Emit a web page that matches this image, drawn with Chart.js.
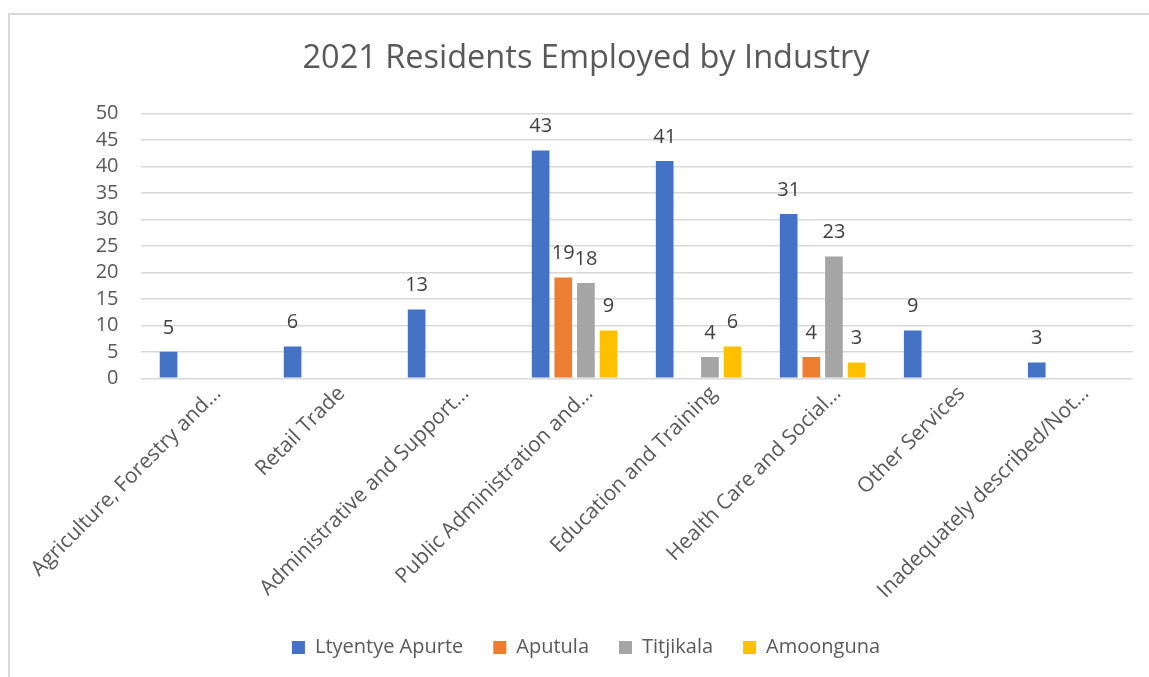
<!DOCTYPE html>
<html lang="en">
<head>
    <meta charset="UTF-8">
    <title>2021 Residents Employed by Industry</title>
    <script src="https://cdn.jsdelivr.net/npm/chart.js"></script>
    <style>
        body {
            margin: 0;
            padding: 0;
            background: #ffffff;
            overflow: hidden;
        }

        /* light grey chart frame, runs off the right and bottom edges */
        .frame {
            position: absolute;
            left: 8px;
            top: 13px;
            width: 1200px;
            height: 720px;
            border: 2px solid #d9d9d9;
        }

        #industryChart {
            position: absolute;
            left: 0;
            top: 0;
        }
    </style>
</head>
<body>
    <div class="frame"></div>
    <canvas id="industryChart" width="1149" height="677"></canvas>

    <script>
        const industries = [
            'Agriculture, Forestry and…',
            'Retail Trade',
            'Administrative and Support…',
            'Public Administration and…',
            'Education and Training',
            'Health Care and Social…',
            'Other Services',
            'Inadequately described/Not…'
        ];

        // null = no residents recorded, so no bar and no label
        const ltyentyeApurte = [5, 6, 13, 43, 41, 31, 9, 3];
        const aputula = [null, null, null, 19, null, 4, null, null];
        const titjikala = [null, null, null, 18, 4, 23, null, null];
        const amoonguna = [null, null, null, 9, 6, 3, null, null];

        const yTicks = [0, 5, 10, 15, 20, 25, 30, 35, 40, 45, 50];

        const font = "'Open Sans', sans-serif";

        // value labels above each bar
        const barValues = {
            id: 'barValues',
            afterDatasetsDraw(chart) {
                const ctx = chart.ctx;
                ctx.save();
                ctx.font = '20px ' + font;
                ctx.fillStyle = '#404040';
                ctx.textAlign = 'center';
                ctx.textBaseline = 'middle';
                chart.data.datasets.forEach((ds, i) => {
                    chart.getDatasetMeta(i).data.forEach((bar, j) => {
                        const v = ds.data[j];
                        if (v === null || v === undefined) return;
                        ctx.fillText(String(v), bar.x, bar.y - 24);
                    });
                });
                ctx.restore();
            }
        };

        const ctx = document.getElementById('industryChart').getContext('2d');
        const chart = new Chart(ctx, {
            type: 'bar',
            data: {
                labels: industries,
                datasets: [
                    { label: 'Ltyentye Apurte', data: ltyentyeApurte, backgroundColor: '#4472C4' },
                    { label: 'Aputula', data: aputula, backgroundColor: '#ED7D31' },
                    { label: 'Titjikala', data: titjikala, backgroundColor: '#A5A5A5' },
                    { label: 'Amoonguna', data: amoonguna, backgroundColor: '#FFC000' }
                ]
            },
            options: {
                responsive: false,
                animation: false,
                categoryPercentage: 0.73,
                barPercentage: 0.78,
                layout: {
                    padding: { left: 39.3, right: 16.3, top: 0, bottom: 9.5 }
                },
                scales: {
                    x: {
                        grid: { display: false },
                        border: { display: false },
                        ticks: {
                            autoSkip: false,
                            minRotation: 45,
                            maxRotation: 45,
                            padding: -5,
                            labelOffset: 15,
                            color: '#595959',
                            font: { family: font, size: 21 }
                        },
                        afterFit(scale) {
                            scale.height = 229.2;
                            scale.paddingLeft = 0;
                            scale.paddingRight = 0;
                        }
                    },
                    y: {
                        min: 0,
                        max: 50,
                        afterBuildTicks(scale) {
                            scale.ticks = yTicks.map(v => ({ value: v }));
                        },
                        grid: {
                            color: '#d9d9d9',
                            lineWidth: 1.5,
                            drawTicks: false
                        },
                        border: { display: false },
                        ticks: {
                            autoSkip: false,
                            padding: 22,
                            color: '#595959',
                            font: { family: font, size: 20 }
                        },
                        afterFit(scale) {
                            scale.width = 101.2;
                            scale.paddingTop = 0;
                            scale.paddingBottom = 0;
                        }
                    }
                },
                plugins: {
                    title: {
                        display: true,
                        text: '2021 Residents Employed by Industry',
                        color: '#595959',
                        font: { family: font, size: 32.5, weight: 'normal' },
                        padding: { top: 39, bottom: 35.3 }
                    },
                    legend: {
                        display: true,
                        position: 'bottom',
                        labels: {
                            boxWidth: 13,
                            boxHeight: 13,
                            padding: 30,
                            color: '#595959',
                            font: { family: font, size: 20 }
                        }
                    },
                    tooltip: { enabled: false }
                }
            },
            plugins: [barValues]
        });
    </script>
</body>
</html>
